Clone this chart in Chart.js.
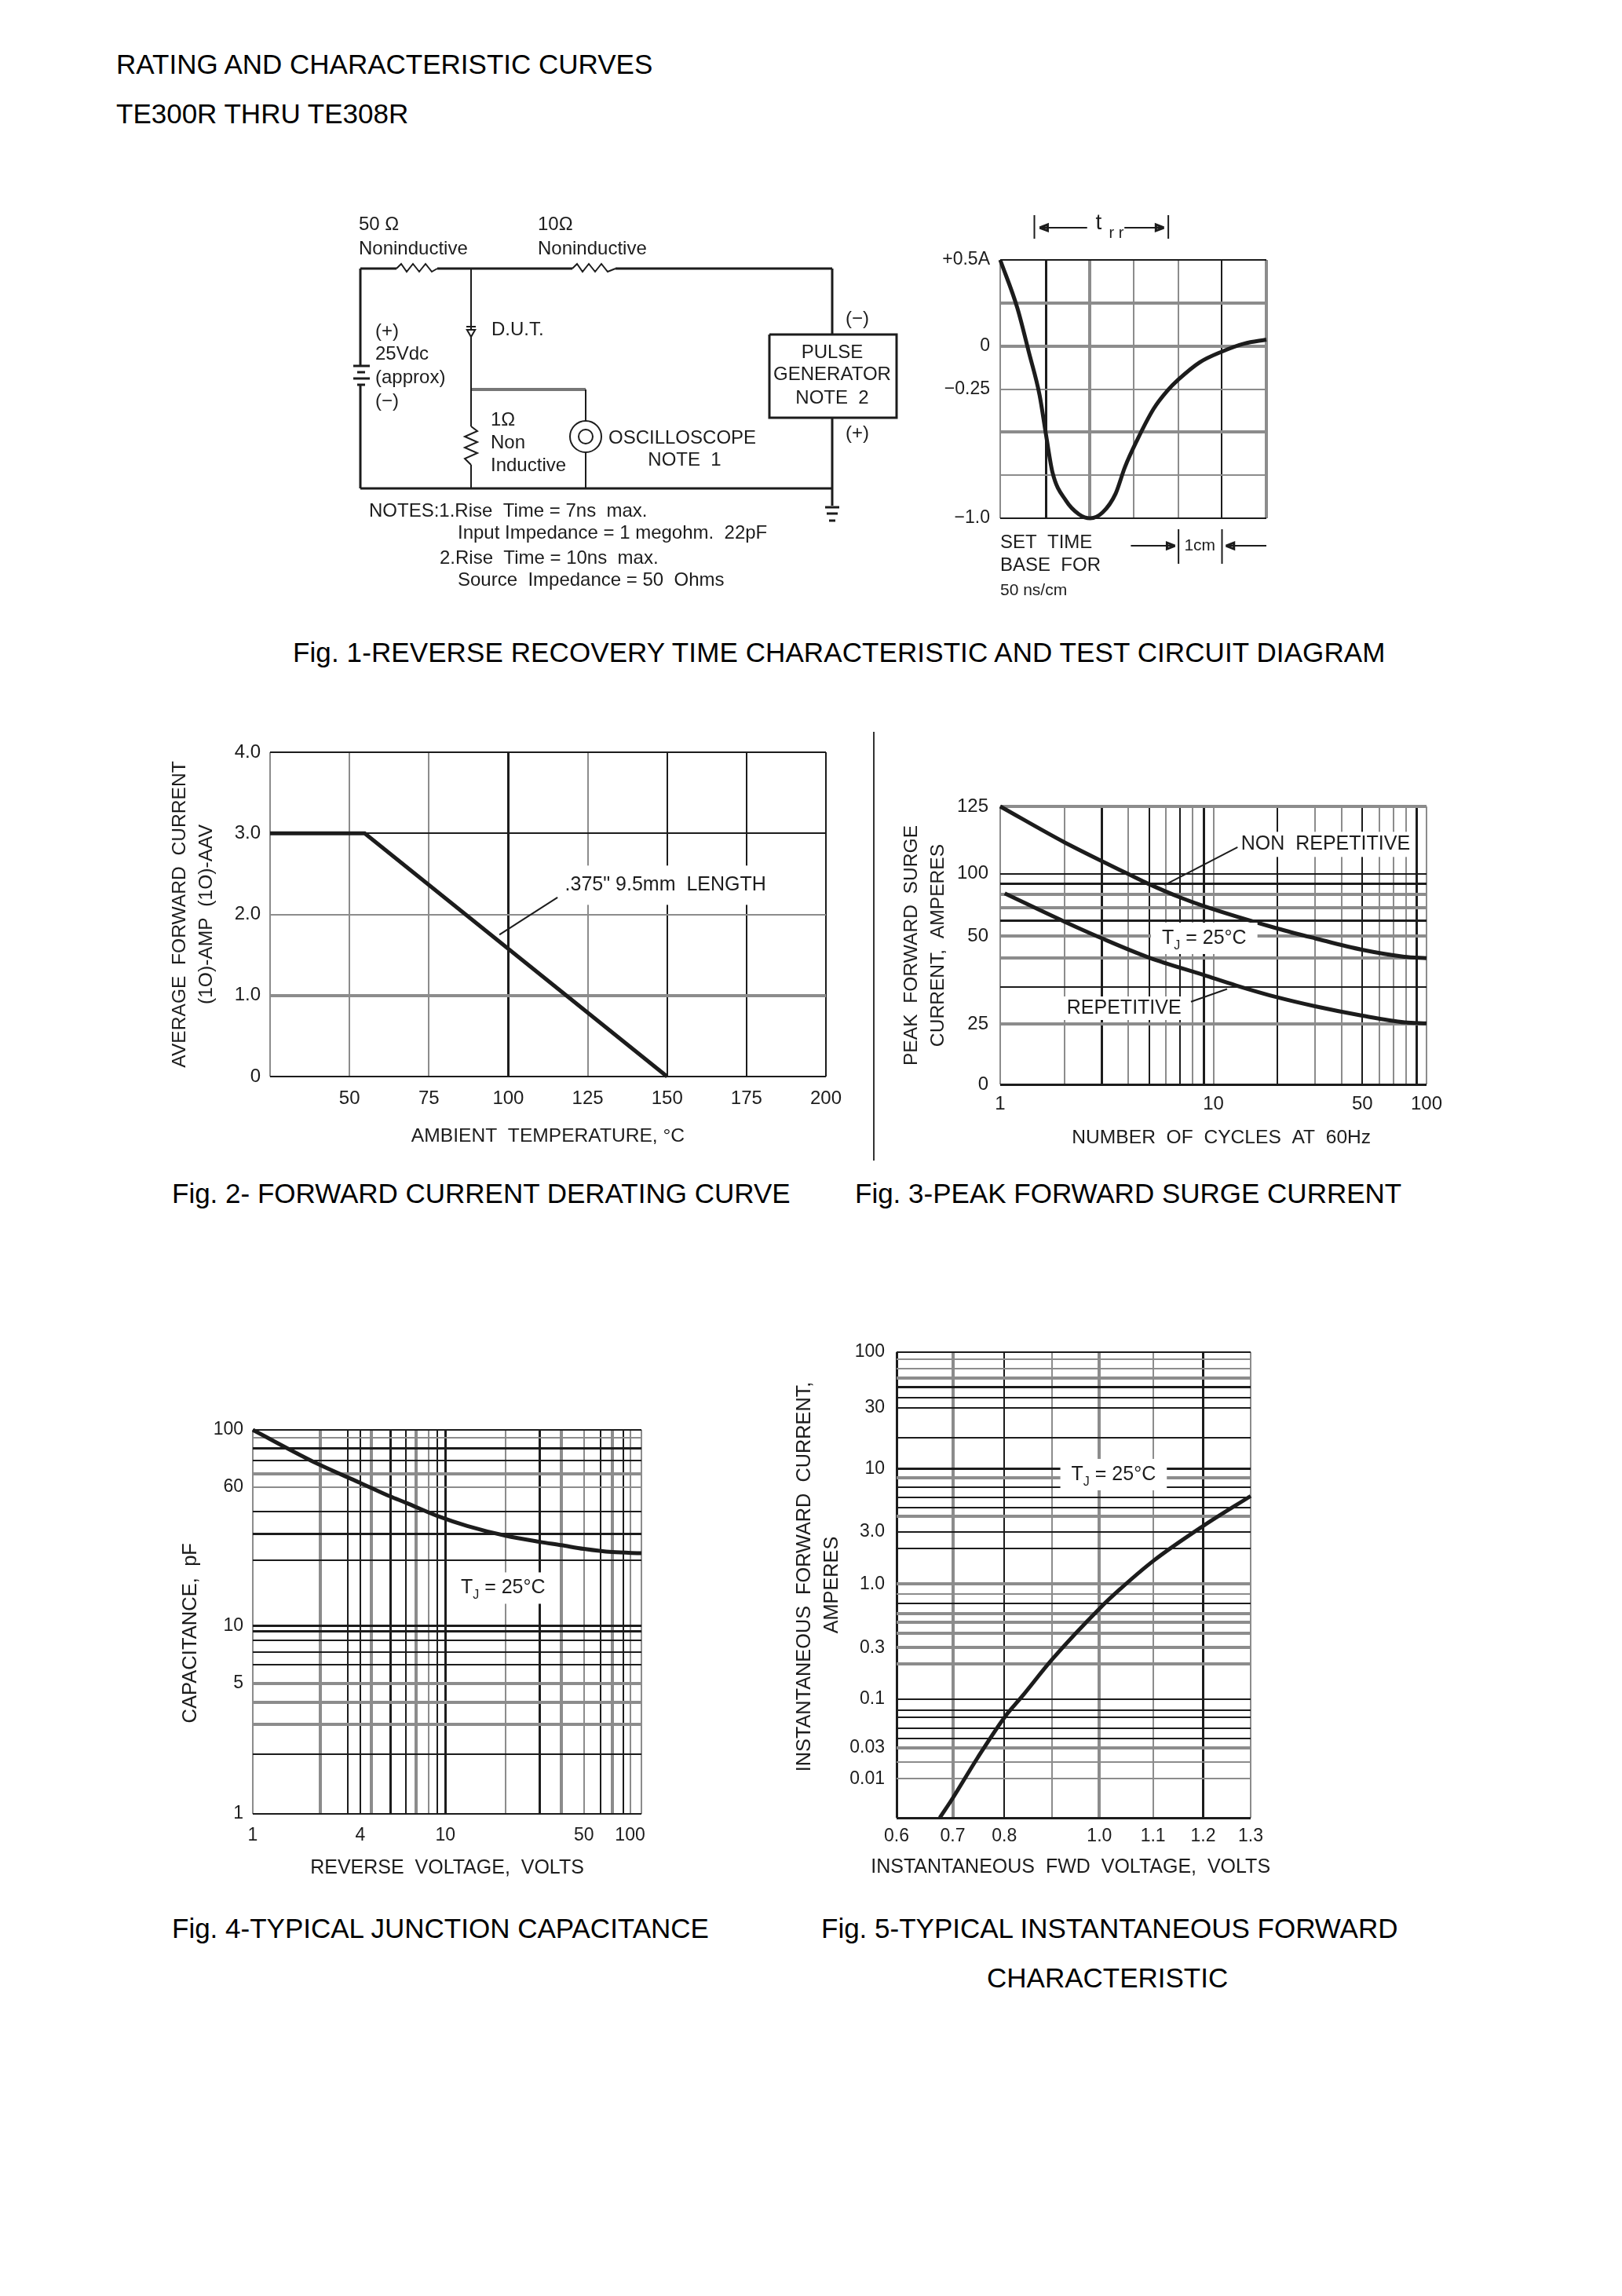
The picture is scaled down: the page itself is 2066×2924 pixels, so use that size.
<!DOCTYPE html>
<html>
<head>
<meta charset="utf-8">
<title>TE300R thru TE308R curves</title>
<script src="https://cdn.jsdelivr.net/npm/chart.js@4"></script>
<style>
  html, body { margin: 0; background: #fff; }
  body { position: relative; width: 2066px; height: 2924px; overflow: hidden; }
  canvas { position: absolute; filter: blur(0.6px); }
  .cap { position: absolute; font: 35px/40px "Liberation Sans", sans-serif; color: #000; white-space: pre; }
  .rule { position: absolute; left: 1112px; top: 932px; width: 2px; height: 546px; background: #333; }
</style>
</head>
<body>
<div class="cap" style="left:148px;top:62px">RATING AND CHARACTERISTIC CURVES</div>
<div class="cap" style="left:148px;top:125px">TE300R THRU TE308R</div>
<div class="cap" style="left:373px;top:811px;letter-spacing:0.1px">Fig. 1-REVERSE RECOVERY TIME CHARACTERISTIC AND TEST CIRCUIT DIAGRAM</div>
<div class="cap" style="left:219px;top:1500px">Fig. 2- FORWARD CURRENT DERATING CURVE</div>
<div class="cap" style="left:1089px;top:1500px">Fig. 3-PEAK FORWARD SURGE CURRENT</div>
<div class="cap" style="left:219px;top:2436px">Fig. 4-TYPICAL JUNCTION CAPACITANCE</div>
<div class="cap" style="left:1046px;top:2436px">Fig. 5-TYPICAL INSTANTANEOUS FORWARD</div>
<div class="cap" style="left:1257px;top:2499px">CHARACTERISTIC</div>
<div class="rule"></div>

<canvas id="circuit"></canvas>
<canvas id="scope"></canvas>
<canvas id="derating"></canvas>
<canvas id="surge"></canvas>
<canvas id="capacitance"></canvas>
<canvas id="forward"></canvas>

<script>
// fig 1 scope trace, x in cm divisions, y in amps
const scopeTime = [0, 0.385, 0.65, 0.888, 1.035, 1.18, 1.48, 1.775, 2.03, 2.31, 2.6, 2.81, 3.08, 3.46, 3.76, 4.02, 4.5, 5, 5.5, 6];
const scopeAmps = [0.5, 0.222, -0.04, -0.285, -0.519, -0.735, -0.897, -0.977, -1, -0.966, -0.858, -0.704, -0.55, -0.364, -0.262, -0.194, -0.094, -0.032, 0.014, 0.037];
const scopeXTicks = [0, 1.03, 2.02, 3.01, 4.02, 4.99, 6];
const scopeYTicks = [-1, -0.75, -0.5, -0.25, 0, 0.25, 0.5];
const scopeYLabels = ['−1.0', '', '', '−0.25', '0', '', '+0.5A'];

// fig 2
const deratingTemp = [25, 54.8, 150];
const deratingAmps = [3, 3, 0];
const deratingXTicks = [25, 50, 75, 100, 125, 150, 175, 200];
const deratingXLabels = ['', '50', '75', '100', '125', '150', '175', '200'];
const deratingYTicks = [0, 1, 2, 3, 4];
const deratingYLabels = ['0', '1.0', '2.0', '3.0', '4.0'];

// fig 3, the printed y labels sit on a log paper so values are in paper units
const surgeXTicks = [1, 2, 3, 4, 5, 6, 7, 8, 9, 10, 20, 30, 40, 50, 60, 70, 80, 90, 100];
const surgeXLabels = ['1', '', '', '', '', '', '', '', '', '10', '', '', '', '50', '', '', '', '', '100'];
const surgeYTicks = [10, 19.3, 29, 39.8, 50.6, 60, 69.2, 80.2, 89.8, 100, 209];
const surgeYLabels = ['0', '25', '', '', '50', '', '', '', '', '100', '125'];
const nonRepCycles = [1, 1.98, 2.99, 3.97, 4.94, 7.04, 9.06, 20, 30, 49.8, 78.7, 100];
const nonRepAmps = [209, 142, 115, 100, 89.8, 77, 70.2, 55, 49.4, 43.6, 40.4, 39.8];
const repCycles = [1.05, 2, 3, 5, 9, 12.8, 20, 30, 50, 79, 100];
const repAmps = [80.7, 59.3, 49.4, 40, 33.1, 29.5, 25.9, 23.5, 21.2, 19.7, 19.5];

// fig 4
const capXTicks = [1, 2.23, 3.09, 3.57, 4.08, 5.1, 6.12, 6.92, 8.01, 8.92, 9.8, 20, 30, 38.6, 50.6, 61.8, 70.7, 80.9, 87.4, 100];
const capXLabels = ['1', '', '', '4', '', '', '', '', '', '', '10', '', '', '', '50', '', '', '', '100', ''];
const capYTicks = [1, 2.05, 2.92, 3.8, 4.77, 5.98, 6.96, 8, 8.9, 9.56, 20.9, 28.7, 37.6, 50.4, 58.9, 69, 80.3, 90.7, 100];
const capYLabels = ['1', '', '', '', '5', '', '', '', '', '10', '', '', '', '60', '', '', '', '', '100'];
const capVolts = [1, 2.16, 3.57, 5.1, 6.12, 8.92, 12.7, 20, 30, 38.6, 50.6, 70.7, 100];
const capPf = [100, 66.5, 53, 45, 41.8, 35.6, 31.6, 28.1, 26.1, 25.1, 24, 23.1, 22.8];

// fig 5
const fwdXTicks = [0.6, 0.711, 0.813, 0.908, 1.001, 1.107, 1.206, 1.3];
const fwdXLabels = ['0.6', '0.7', '0.8', '', '1.0', '1.1', '1.2', '1.3'];
const fwdYTicks = [0.00969, 0.021, 0.0292, 0.039, 0.0468, 0.0573, 0.0708, 0.0824, 0.102, 0.207, 0.283, 0.376, 0.467, 0.56, 0.686, 0.822, 1, 2.02, 2.82, 3.83, 4.59, 5.62, 6.89, 8.26, 9.9, 18.2, 33.3, 40.8, 49.6, 59.5, 72.3, 87.4, 100];
const fwdYLabels = ['', '0.01', '', '0.03', '', '', '', '', '0.1', '', '0.3', '', '', '', '', '', '1.0', '', '3.0', '', '', '', '', '', '10', '', '30', '', '', '', '', '', '100'];
const fwdVolts = [0.6855, 0.711, 0.76, 0.813, 0.849, 0.908, 1.001, 1.039, 1.107, 1.205, 1.3];
const fwdAmps = [0.0097, 0.0143, 0.0318, 0.0708, 0.109, 0.226, 0.615, 0.883, 1.58, 3.15, 5.75];

const FONT = '"Liberation Sans", sans-serif';
const INK = '#1c1c1c';
const GREY = '#8c8c8c';

// scan look of the grid: k thin black, K heavy black, g thin grey, G heavy grey
const gridInk = { k: [INK, 2], K: [INK, 3], g: [GREY, 2], G: [GREY, 4] };

function pts (xs, ys) {
  return xs.map((x, i) => ({ x: x, y: ys[i] }));
}

function line (data, width, color) {
  return { data: data, showLine: true, borderColor: color || INK, borderWidth: width, pointRadius: 0, tension: 0, clip: false };
}

function curve (data, width) {
  const set = line(data, width);
  set.cubicInterpolationMode = 'monotone';
  return set;
}

function noteLayer (items) {
  return {
    id: 'notes',
    afterDatasetsDraw (chart) {
      const ctx = chart.ctx;
      ctx.save();
      ctx.textBaseline = 'middle';
      items.forEach(n => {
        const size = n.size || 25;
        const px = chart.scales.x.getPixelForValue(n.x);
        const py = chart.scales.y.getPixelForValue(n.y);
        const main = size + 'px ' + FONT;
        const small = Math.round(size * 0.65) + 'px ' + FONT;
        ctx.font = main;
        const w1 = ctx.measureText(n.text).width;
        const w3 = n.tail ? ctx.measureText(n.tail).width : 0;
        ctx.font = small;
        const w2 = n.sub ? ctx.measureText(n.sub).width : 0;
        const total = w1 + w2 + w3;
        let x0 = px;
        if (n.align === 'center') x0 = px - total / 2;
        if (n.align === 'right') x0 = px - total;
        if (n.clear) {
          ctx.fillStyle = '#fff';
          ctx.fillRect(x0 - n.clear[0], py - n.clear[1], total + 2 * n.clear[0], 2 * n.clear[1]);
        }
        ctx.fillStyle = INK;
        ctx.textAlign = 'left';
        ctx.font = main;
        ctx.fillText(n.text, x0, py);
        if (n.sub) {
          ctx.font = small;
          ctx.fillText(n.sub, x0 + w1, py + size * 0.38);
        }
        if (n.tail) {
          ctx.font = main;
          ctx.fillText(n.tail, x0 + w1 + w2, py);
        }
      });
      ctx.restore();
    }
  };
}

function axis (a) {
  const opts = {
    type: a.type,
    min: a.min,
    max: a.max,
    afterBuildTicks: s => { s.ticks = a.ticks.map(v => ({ value: v })); },
    afterFit: s => {
      if (a.boxW) s.width = a.boxW;
      if (a.boxH) s.height = a.boxH;
    },
    border: { display: false },
    grid: {
      drawTicks: false,
      color: c => gridInk[a.ink[c.index]][0],
      lineWidth: c => gridInk[a.ink[c.index]][1]
    },
    ticks: {
      autoSkip: false,
      maxRotation: 0,
      minRotation: 0,
      padding: a.pad,
      color: INK,
      font: { family: FONT, size: a.tickSize || 23 },
      callback: (v, i) => a.labels ? a.labels[i] : ''
    }
  };
  if (a.title) {
    opts.title = {
      display: true,
      text: a.title,
      color: INK,
      padding: 0,
      font: { family: FONT, size: a.titleSize || 24.6, lineHeight: 1.4 }
    };
  }
  return opts;
}

// box is the plot area in page pixels
function plot (id, box, xAxis, yAxis, datasets, notes) {
  const m = box.m || 40;
  const canvas = document.getElementById(id);
  canvas.width = box.right - box.left + box.yW + 2 * m;
  canvas.height = box.bottom - box.top + box.xH + 2 * m;
  canvas.style.left = (box.left - box.yW - m) + 'px';
  canvas.style.top = (box.top - m) + 'px';
  xAxis.boxH = box.xH;
  yAxis.boxW = box.yW;
  new Chart(canvas, {
    type: 'scatter',
    data: { datasets: datasets },
    plugins: [noteLayer(notes || [])],
    options: {
      responsive: false,
      animation: false,
      events: [],
      layout: { padding: m },
      plugins: { legend: { display: false }, tooltip: { enabled: false } },
      scales: { x: axis(xAxis), y: axis(yAxis) }
    }
  });
}

const tjNote = (x, y, clear) => ({ text: 'T', sub: 'J', tail: ' = 25°C', x: x, y: y, align: 'center', clear: clear });

// fig 1 circuit, drawn on a hidden scale that runs in page pixels
const wiresHeavy = [
  [[459, 342], [505, 342]], [[557, 342], [729, 342]], [[784, 342], [1060, 342]],
  [[459, 342], [459, 465]], [[459, 491], [459, 622]], [[459, 622], [1060, 622]],
  [[450, 466], [471, 466]], [[450, 482], [471, 482]], [[455, 474], [465, 474]], [[455, 490], [465, 490]],
  [[980, 426], [1142, 426], [1142, 532], [980, 532], [980, 426]],
  [[1060, 342], [1060, 426]], [[1060, 532], [1060, 644]],
  [[1051, 646], [1069, 646]], [[1053, 654], [1067, 654]], [[1056, 663], [1064, 663]]
];
const wiresLight = [
  [[600, 342], [600, 543]], [[600, 592], [600, 622]], [[746, 496], [746, 536]], [[746, 576], [746, 622]],
  [[505, 342], [511, 336], [518, 346], [526, 336], [534, 346], [542, 336], [550, 346], [557, 342]],
  [[729, 342], [735, 336], [742, 346], [750, 336], [758, 346], [766, 336], [774, 346], [784, 342]],
  [[600, 543], [608, 549], [592, 556], [608, 563], [592, 570], [608, 577], [592, 584], [600, 592]],
  [[594, 416], [606, 416]]
];
const branchWire = [[600, 496], [746, 496]];
const circuitText = [
  ['50 Ω', 457, 286], ['Noninductive', 457, 317], ['10Ω', 685, 286], ['Noninductive', 685, 317],
  ['(+)', 478, 422], ['25Vdc', 478, 451], ['(approx)', 478, 481], ['(−)', 478, 511],
  ['D.U.T.', 626, 420], ['(−)', 1077, 406], ['(+)', 1077, 552],
  ['1Ω', 625, 535], ['Non', 625, 564], ['Inductive', 625, 593], ['OSCILLOSCOPE', 775, 558],
  ['NOTES:1.Rise  Time = 7ns  max.', 470, 651], ['Input Impedance = 1 megohm.  22pF', 583, 679],
  ['2.Rise  Time = 10ns  max.', 560, 711], ['Source  Impedance = 50  Ohms', 583, 739]
];
const circuitTextMid = [['PULSE', 1060, 449], ['GENERATOR', 1060, 477], ['NOTE  2', 1060, 507], ['NOTE  1', 872, 586]];

const circuitSets = [];
wiresHeavy.forEach(w => circuitSets.push(line(w.map(p => ({ x: p[0], y: p[1] })), 3)));
wiresLight.forEach(w => circuitSets.push(line(w.map(p => ({ x: p[0], y: p[1] })), 2)));
circuitSets.push(line(branchWire.map(p => ({ x: p[0], y: p[1] })), 4, '#777'));
circuitSets.push({ order: -1, data: [{ x: 746, y: 556 }], pointStyle: 'circle', pointRadius: 20, pointBorderWidth: 2, pointBorderColor: INK, pointBackgroundColor: '#fff' });
circuitSets.push({ order: -2, data: [{ x: 746, y: 556 }], pointStyle: 'circle', pointRadius: 9, pointBorderWidth: 2, pointBorderColor: INK, pointBackgroundColor: '#fff' });
circuitSets.push({ order: -1, data: [{ x: 600, y: 423 }], pointStyle: 'triangle', rotation: 180, pointRadius: 6, pointBorderWidth: 2, pointBorderColor: INK, pointBackgroundColor: '#fff' });

const circuitCanvas = document.getElementById('circuit');
circuitCanvas.width = 720;
circuitCanvas.height = 510;
circuitCanvas.style.left = '430px';
circuitCanvas.style.top = '260px';
new Chart(circuitCanvas, {
  type: 'scatter',
  data: { datasets: circuitSets },
  plugins: [noteLayer(
    circuitText.map(t => ({ text: t[0], x: t[1], y: t[2], size: 24 }))
      .concat(circuitTextMid.map(t => ({ text: t[0], x: t[1], y: t[2], align: 'center', size: 24 })))
  )],
  options: {
    responsive: false,
    animation: false,
    events: [],
    layout: { autoPadding: false },
    plugins: { legend: { display: false }, tooltip: { enabled: false } },
    scales: {
      x: { display: false, min: 430, max: 1150 },
      y: { display: false, reverse: true, min: 260, max: 770 }
    }
  }
});

// fig 1 scope, marks around the trace are in the same cm and amp units
const scopeMarks = [
  [[0.77, 0.76], [0.77, 0.623]], [[3.79, 0.76], [3.79, 0.623]],
  [[0.89, 0.687], [1.96, 0.687]], [[2.8, 0.687], [3.69, 0.687]],
  [[2.945, -1.16], [3.94, -1.16]], [[5.09, -1.16], [6, -1.16]],
  [[4.02, -1.064], [4.02, -1.265]], [[5, -1.064], [5, -1.265]]
];
// arrow tips, third value is the way the tip points
const scopeTips = [[0.89, 0.687, -1], [3.69, 0.687, 1], [3.94, -1.16, 1], [5.09, -1.16, -1]];

const scopeSets = [curve(pts(scopeTime, scopeAmps), 5)];
scopeMarks.forEach(m => scopeSets.push(line(m.map(p => ({ x: p[0], y: p[1] })), 2)));
// point elements outside the plot area are skipped by chart.js, so tips are short lines
scopeTips.forEach(t => scopeSets.push(line([
  { x: t[0], y: t[1] },
  { x: t[0] - t[2] * 0.18, y: t[1] + 0.018 },
  { x: t[0] - t[2] * 0.18, y: t[1] - 0.018 },
  { x: t[0], y: t[1] }
], 3)));

plot('scope', { left: 1274, top: 331, right: 1613, bottom: 660, yW: 80, xH: 10, m: 110 },
  { type: 'linear', min: 0, max: 6, ticks: scopeXTicks, ink: 'gKGggkG', pad: 0 },
  { type: 'linear', min: -1, max: 0.5, ticks: scopeYTicks, labels: scopeYLabels, ink: 'kgGgGGk', pad: 13 },
  scopeSets,
  [
    { text: 't', x: 2.15, y: 0.714, size: 28 },
    { text: 'r r', x: 2.45, y: 0.655, size: 20 },
    { text: 'SET  TIME', x: 0, y: -1.142, size: 24 },
    { text: 'BASE  FOR', x: 0, y: -1.274, size: 24 },
    { text: '50 ns/cm', x: 0, y: -1.42, size: 21 },
    { text: '1cm', x: 4.5, y: -1.16, align: 'center', size: 21 }
  ]);

// fig 2
plot('derating', { left: 344, top: 958, right: 1052, bottom: 1371, yW: 132, xH: 93 },
  { type: 'linear', min: 25, max: 200, ticks: deratingXTicks, labels: deratingXLabels, ink: 'gggKgkkk', pad: 14, tickSize: 24, title: 'AMBIENT  TEMPERATURE, °C' },
  { type: 'linear', min: 0, max: 4, ticks: deratingYTicks, labels: deratingYLabels, ink: 'kGgkk', pad: 12, tickSize: 24, title: ['AVERAGE  FORWARD  CURRENT', '(1O)-AMP  (1O)-AAV'] },
  [
    line(pts(deratingTemp, deratingAmps), 5),
    line(pts([115.5, 97.2], [2.21, 1.75]), 2)
  ],
  [{ text: '.375" 9.5mm  LENGTH', x: 149.5, y: 2.36, align: 'center', clear: [8, 25] }]);

// fig 3
plot('surge', { left: 1274, top: 1027, right: 1817, bottom: 1381, yW: 130, xH: 85 },
  { type: 'logarithmic', min: 1, max: 100, ticks: surgeXTicks, labels: surgeXLabels, ink: 'ggKgkgkgKgkggkgggKg', pad: 11, tickSize: 24, title: '   NUMBER  OF  CYCLES  AT  60Hz' },
  { type: 'logarithmic', min: 10, max: 209, ticks: surgeYTicks, labels: surgeYLabels, ink: 'KGkGGKGGKkG', pad: 15, tickSize: 24, title: ['PEAK  FORWARD  SURGE', 'CURRENT,  AMPERES'] },
  [
    curve(pts(nonRepCycles, nonRepAmps), 5),
    curve(pts(repCycles, repAmps), 5),
    line(pts([13, 5.9], [134, 88.5]), 2),
    line(pts([7.85, 11.6], [24.7, 28.4]), 2)
  ],
  [
    { text: 'NON  REPETITIVE', x: 33.6, y: 138, align: 'center', clear: [4, 16] },
    tjNote(9.06, 49.4, [14, 20]),
    { text: 'REPETITIVE', x: 3.81, y: 23, align: 'center', clear: [4, 15] }
  ]);

// fig 4
plot('capacitance', { left: 322, top: 1821, right: 817, bottom: 2310, yW: 97, xH: 87 },
  { type: 'logarithmic', min: 1, max: 100, ticks: capXTicks, labels: capXLabels, ink: 'gGkkGKkGgkKgKGgkGkgg', pad: 14, titleSize: 25, title: 'REVERSE  VOLTAGE,  VOLTS' },
  { type: 'logarithmic', min: 1, max: 100, ticks: capYTicks, labels: capYLabels, ink: 'kkGGGkkkKKkKkgGkKgk', pad: 12, titleSize: 25.6, title: 'CAPACITANCE,  pF    ' },
  [curve(pts(capVolts, capPf), 5)],
  [tjNote(19.4, 15, [6, 20])]);

// fig 5, x title is a note because chart.js squeezes a scale title to the plot width
plot('forward', { left: 1142, top: 1722, right: 1593, bottom: 2315, yW: 135, xH: 81 },
  { type: 'linear', min: 0.6, max: 1.3, ticks: fwdXTicks, labels: fwdXLabels, ink: 'KGkgGgKg', pad: 10 },
  { type: 'logarithmic', min: 0.00969, max: 100, ticks: fwdYTicks, labels: fwdYLabels, ink: 'KggGkkkkkGGGGGkgGkkGkkkGKkkkKGggk', pad: 15, titleSize: 25.3, title: ['   INSTANTANEOUS  FORWARD  CURRENT,', 'AMPERES'] },
  [curve(pts(fwdVolts, fwdAmps), 5)],
  [
    tjNote(1.029, 8.8, [14, 20]),
    { text: 'INSTANTANEOUS  FWD  VOLTAGE,  VOLTS', x: 0.944, y: 0.00363, align: 'center', size: 25 }
  ]);
</script>
</body>
</html>
